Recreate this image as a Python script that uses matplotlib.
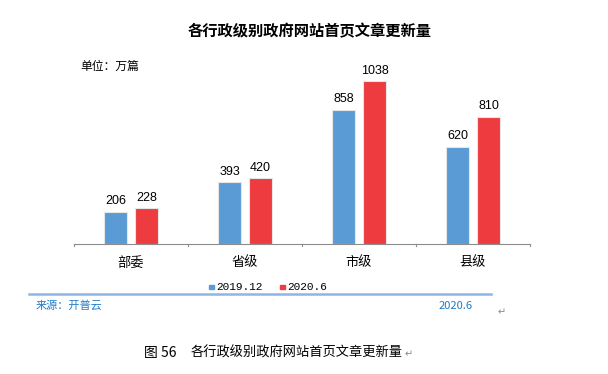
import numpy as np
import matplotlib
matplotlib.use('Agg')
from matplotlib import pyplot as plt

plt.rcParams['font.family'] = ['Noto Sans CJK SC', 'DejaVu Sans']

categories = ['部委', '省级', '市级', '县级']
series_names = ['2019.12', '2020.6']
v2019 = [206, 393, 858, 620]
v2020 = [228, 420, 1038, 810]
colors = ['#5B9BD5', '#EE3B3F']

fig = plt.figure(figsize=(6.08, 3.74), dpi=100)
ax = fig.add_axes([0.1217, 0.3476, 0.75, 0.5024])

x = np.arange(len(categories))
w = 0.21
off = 0.136
b1 = ax.bar(x - off, v2019, w, color=colors[0], edgecolor='#e6e6e6', linewidth=0.8)
b2 = ax.bar(x + off, v2020, w, color=colors[1], edgecolor='#e6e6e6', linewidth=0.8)
for bars, vals in [(b1, v2019), (b2, v2020)]:
    for b, v in zip(bars, vals):
        ax.text(b.get_x() + b.get_width() / 2, v + 30, str(v), ha='center', va='bottom',
                fontsize=9, family='Liberation Sans')

ax.set_xlim(-0.5, 3.5)
ax.set_ylim(0, 1200)
ax.set_yticks([])
ax.set_xticks(x)
ax.set_xticklabels(categories, fontsize=9.5)
ax.tick_params(axis='x', length=0, pad=9)
for s in ['top', 'right', 'left']:
    ax.spines[s].set_visible(False)
ax.spines['bottom'].set_color('#8c8c8c')
# small category separators
for t in np.arange(-0.5, 4, 1):
    ax.plot([t, t], [0, -12], color='#8c8c8c', lw=0.8, clip_on=False)

fig.text(0.51, 0.917, '各行政级别政府网站首页文章更新量', ha='center', va='center',
         fontsize=11, fontweight='bold')
fig.text(0.132, 0.823, '单位：万篇', ha='left', va='center', fontsize=8.5)

# legend
fig.patches.append(plt.Rectangle((0.344, 0.226), 0.0085, 0.013, color=colors[0],
                                 transform=fig.transFigure))
fig.text(0.355, 0.232, series_names[0], ha='left', va='center', fontsize=8,
         family='Liberation Mono')
fig.patches.append(plt.Rectangle((0.461, 0.226), 0.0085, 0.013, color=colors[1],
                                 transform=fig.transFigure))
fig.text(0.472, 0.232, series_names[1], ha='left', va='center', fontsize=8,
         family='Liberation Mono')

fig.add_artist(plt.Line2D([0.048, 0.808], [0.214, 0.214], color='#8FB4E8', lw=1.8))
fig.text(0.058, 0.182, '来源：开普云', ha='left', va='center', fontsize=8, color='#1F7BC8')
fig.text(0.778, 0.182, '2020.6', ha='right', va='center', fontsize=8, color='#1F7BC8')
fig.text(0.818, 0.165, '↵', ha='left', va='center', fontsize=7, color='#888888',
         family='DejaVu Sans')

fig.text(0.237, 0.056, '图 56', ha='left', va='center', fontsize=10)
fig.text(0.314, 0.056, '各行政级别政府网站首页文章更新量', ha='left', va='center',
         fontsize=9.5)
fig.text(0.666, 0.052, '↵', ha='left', va='center', fontsize=7, color='#888888',
         family='DejaVu Sans')

plt.savefig('out.png', dpi=100)
